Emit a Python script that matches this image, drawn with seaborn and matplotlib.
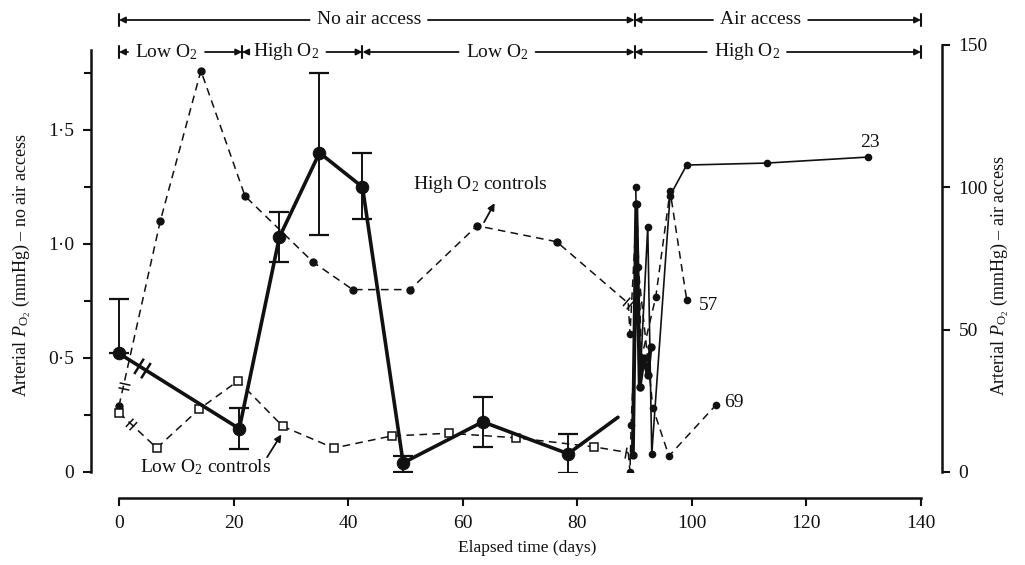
import matplotlib
matplotlib.use("Agg")
import numpy as np
import pandas as pd
import matplotlib.pyplot as plt
import seaborn as sns
from matplotlib.path import Path
from matplotlib.markers import MarkerStyle
from matplotlib.transforms import Affine2D, blended_transform_factory
from matplotlib.lines import Line2D
from matplotlib.ticker import FixedLocator, MultipleLocator, FuncFormatter

# ---------------- data ----------------
# Experimental animals, no air access (mean, with error bars) - left axis
exp_days = [0, 21, 28, 35, 42.5, 49.6, 63.5, 78.4]
exp_po2 = [0.52, 0.19, 1.03, 1.40, 1.25, 0.04, 0.22, 0.08]
exp_err_low = [0.0, 0.09, 0.11, 0.36, 0.14, 0.04, 0.11, 0.085]
exp_err_high = [0.24, 0.09, 0.11, 0.35, 0.15, 0.03, 0.11, 0.085]
exp_tail_days = [78.4, 87.1]
exp_tail_po2 = [0.08, 0.24]

# Controls kept at high / low O2 - left axis
high_ctrl_days = [0, 7.2, 14.3, 22, 33.9, 40.8, 50.8, 62.5, 76.4, 88.9]
high_ctrl_po2 = [0.29, 1.10, 1.76, 1.21, 0.92, 0.80, 0.80, 1.08, 1.01, 0.74]
low_ctrl_days = [0, 6.6, 14, 20.8, 28.6, 37.5, 47.6, 57.6, 69.3, 83, 88.9]
low_ctrl_po2 = [0.26, 0.105, 0.276, 0.40, 0.20, 0.105, 0.158, 0.17, 0.15, 0.11, 0.085]

# Air access period, individual animals - right axis
exp_air_days = [89.7, 90.3, 90.9, 91.6, 92.3, 92.8]
exp_air_po2 = [6, 94, 30, 40, 34, 44]
a23_days = [90.2, 90.9, 92.3, 93.0, 96.2, 99.1, 113.1, 130.7]
a23_po2 = [100, 30, 86, 6.3, 97, 107.7, 108.4, 110.5]
a57_days = [89.2, 90.4, 91.2, 93.7, 96.2, 99.1]
a57_po2 = [48.4, 94, 40, 61.4, 98.6, 60.4]
a69_days = [89.2, 89.4, 90.6, 93.2, 96.0, 104.2]
a69_po2 = [0, 16.5, 72, 22.5, 5.6, 23.5]

# Period bars along the top
row1_periods = [(0, 90, "No air access", 43.6), (90, 140, "Air access", 112)]
row2_periods = [(0, 21.5, "Low O$_2$", 8.3), (21.5, 42.5, "High O$_2$", 29.2),
                (42.5, 90, "Low O$_2$", 66.0), (90, 140, "High O$_2$", 109.6)]

LEFT_MAX, RIGHT_MAX = 1.875, 150.0
SCALE = RIGHT_MAX / LEFT_MAX

# ---------------- style ----------------
sns.set_theme(style="white")
plt.rcParams["font.family"] = ["Liberation Serif", "DejaVu Serif"]
plt.rcParams["mathtext.fontset"] = "custom"
plt.rcParams["mathtext.rm"] = "Liberation Serif"
plt.rcParams["mathtext.it"] = "Liberation Serif:italic"
plt.rcParams["axes.unicode_minus"] = False

K = "#111111"
FS = 14

fig = plt.figure(figsize=(10.25, 5.65), dpi=100)
ax = fig.add_axes([91 / 1025, 93 / 565, 851 / 1025, 427.5 / 565])
ax2 = ax.twinx()
ax.set_facecolor("none")
px_per_day = (921 - 119) / 140
ax.set_xlim(-28 / px_per_day, 140 + 21 / px_per_day)
ax.set_ylim(0, LEFT_MAX)
ax2.set_ylim(0, RIGHT_MAX)

dash = (5, 3.5)

# experimental mean, thick line
sns.lineplot(x=exp_days, y=exp_po2, ax=ax, sort=False, estimator=None, color=K,
             lw=2.6, marker="o", markersize=9, markeredgecolor=K, zorder=5)
sns.lineplot(x=exp_tail_days, y=exp_tail_po2, ax=ax, sort=False, estimator=None,
             color=K, lw=2.6, zorder=5)
ax.errorbar(exp_days, exp_po2, yerr=[exp_err_low, exp_err_high], fmt="none",
            ecolor=K, elinewidth=1.4, capsize=7, capthick=1.6, zorder=4)

# high O2 controls
sns.lineplot(x=high_ctrl_days, y=high_ctrl_po2, ax=ax, sort=False, estimator=None,
             color=K, lw=1.1, linestyle="--", dashes=False, zorder=3)
ax.lines[-1].set_dashes(dash)
ax.plot(high_ctrl_days[:-1], high_ctrl_po2[:-1], ls="none", marker="o", ms=5,
        color=K, zorder=4)

# low O2 controls
sns.lineplot(x=low_ctrl_days, y=low_ctrl_po2, ax=ax, sort=False, estimator=None,
             color=K, lw=1.1, linestyle="--", dashes=False, zorder=3)
ax.lines[-1].set_dashes(dash)
ax.plot(low_ctrl_days[:-1], low_ctrl_po2[:-1], ls="none", marker="s", ms=5.5,
        mfc="white", mec=K, mew=1.1, zorder=4)

# air access traces (right axis)
def trace(xs, ys, lw, dashed, ms, first_marker=True):
    sns.lineplot(x=xs, y=ys, ax=ax2, sort=False, estimator=None, color=K, lw=lw,
                 zorder=3)
    ln = ax2.lines[-1]
    if dashed:
        ln.set_dashes(dash)
    start = 0 if first_marker else 1
    ax2.plot(xs[start:], ys[start:], ls="none", marker="o", ms=ms, color=K, zorder=4)

trace([high_ctrl_days[-1]] + a57_days, [high_ctrl_po2[-1] * SCALE] + a57_po2,
      1.1, True, 4.5, first_marker=False)
trace([low_ctrl_days[-1]] + a69_days, [low_ctrl_po2[-1] * SCALE] + a69_po2,
      1.1, True, 4.5, first_marker=False)
trace(a23_days, a23_po2, 1.2, False, 4.5)
trace(exp_air_days, exp_air_po2, 2.8, False, 5)

# ---------------- axes & spines ----------------
for s in ["top", "right"]:
    ax.spines[s].set_visible(False)
for s in ["top", "left", "bottom"]:
    ax2.spines[s].set_visible(False)
for sp in [ax.spines["left"], ax.spines["bottom"], ax2.spines["right"]]:
    sp.set_color(K)
    sp.set_linewidth(1.8)
ax.spines["bottom"].set_position(("outward", 19))
ax.spines["bottom"].set_bounds(0, 140)
ax.spines["left"].set_bounds(0, 1.85)
ax2.spines["right"].set_bounds(0, RIGHT_MAX)

ax.xaxis.set_major_locator(FixedLocator(np.arange(0, 141, 20)))
ax.xaxis.set_minor_locator(FixedLocator(np.arange(10, 140, 20)))
ax.yaxis.set_major_locator(FixedLocator([0, 0.5, 1.0, 1.5]))
ax.yaxis.set_minor_locator(FixedLocator([0.25, 0.75, 1.25, 1.75]))
ax.yaxis.set_major_formatter(FuncFormatter(
    lambda v, p: "0" if v == 0 else f"{v:.1f}".replace(".", "\u00b7")))
ax2.yaxis.set_major_locator(FixedLocator([0, 50, 100, 150]))
ax2.yaxis.set_minor_locator(FixedLocator([]))

ax.tick_params(axis="both", which="both", direction="out", color=K, width=1.5,
               labelsize=FS, labelcolor=K)
ax.tick_params(axis="both", which="major", length=6, pad=6)
ax.tick_params(axis="both", which="minor", length=5)
ax.tick_params(axis="x", bottom=True, top=False)
ax.tick_params(axis="y", left=True, right=False)
ax2.tick_params(axis="y", which="major", direction="out", color=K, width=1.5,
                length=6, pad=6, labelsize=FS, labelcolor=K)

ax.set_xlabel("Elapsed time (days)", fontsize=12.5, color=K)
ax.xaxis.set_label_coords(0.512, -0.178)
ax.xaxis.label.set_va("center")
ax.set_ylabel(r"Arterial $P_{\mathrm{O}_2}$ (mmHg) \u2013 no air access".replace("\\u2013", "\u2013"),
              fontsize=13, color=K)
ax.yaxis.set_label_coords(-0.081, 0.484)
ax.yaxis.label.set_va("center")
ax2.set_ylabel(r"Arterial $P_{\mathrm{O}_2}$ (mmHg) \u2013 air access".replace("\\u2013", "\u2013"),
               fontsize=13, color=K)
ax2.yaxis.set_label_coords(1.068, 0.46)
ax2.yaxis.label.set_va("center")
ax2.yaxis.label.set_rotation(90)

# ---------------- break marks on lines ----------------
bar_path = Path([(-0.45, -1), (-0.45, 1), (0.45, -1), (0.45, 1)],
                [Path.MOVETO, Path.LINETO, Path.MOVETO, Path.LINETO])

def angle_of(axes, p0, p1):
    d0 = axes.transData.transform(p0)
    d1 = axes.transData.transform(p1)
    return np.degrees(np.arctan2(d1[1] - d0[1], d1[0] - d0[0]))

def break_mark(axes, pos, p0, p1, size, lw):
    ang = angle_of(axes, p0, p1)
    m = MarkerStyle(bar_path, transform=Affine2D().rotate_deg(ang))
    axes.plot([pos[0]], [pos[1]], ls="none", marker=m, ms=size, mec=K, mew=lw,
              zorder=6)

def point_on(xs, ys, i, t):
    return (xs[i] + t * (xs[i + 1] - xs[i]), ys[i] + t * (ys[i + 1] - ys[i]))

fig.canvas.draw()
break_mark(ax, point_on(exp_days, exp_po2, 0, 0.19),
           (exp_days[0], exp_po2[0]), (exp_days[1], exp_po2[1]), 13, 1.8)
break_mark(ax, point_on(high_ctrl_days, high_ctrl_po2, 0, 0.11),
           (high_ctrl_days[0], high_ctrl_po2[0]), (high_ctrl_days[1], high_ctrl_po2[1]), 8, 1.1)
break_mark(ax, point_on(low_ctrl_days, low_ctrl_po2, 0, 0.33),
           (low_ctrl_days[0], low_ctrl_po2[0]), (low_ctrl_days[1], low_ctrl_po2[1]), 8, 1.1)
break_mark(ax, (high_ctrl_days[-1], high_ctrl_po2[-1]),
           (high_ctrl_days[-2], high_ctrl_po2[-2]), (high_ctrl_days[-1], high_ctrl_po2[-1]), 8, 1.1)
break_mark(ax, (low_ctrl_days[-1], low_ctrl_po2[-1]),
           (low_ctrl_days[-2], low_ctrl_po2[-2]), (low_ctrl_days[-1], low_ctrl_po2[-1]), 8, 1.1)

# ---------------- annotations ----------------
ax.text(63.0, 1.26, "High O$_2$ controls", ha="center", va="center", fontsize=FS, color=K)
ax.annotate("", xy=(65.8, 1.19), xytext=(63.5, 1.085),
            arrowprops=dict(arrowstyle="-|>", color=K, lw=1.3, mutation_scale=10))
ax.text(15.2, 0.02, "Low O$_2$ controls", ha="center", va="center", fontsize=FS, color=K)
ax.annotate("", xy=(28.6, 0.175), xytext=(25.6, 0.055),
            arrowprops=dict(arrowstyle="-|>", color=K, lw=1.3, mutation_scale=10))

ax2.text(131.0, 115.5, "23", ha="center", va="center", fontsize=FS, color=K)
ax2.text(103.0, 58.5, "57", ha="center", va="center", fontsize=FS, color=K)
ax2.text(107.3, 24.5, "69", ha="center", va="center", fontsize=FS, color=K)

# period bars
trans = blended_transform_factory(ax.transData, fig.transFigure)
renderer = fig.canvas.get_renderer()
inv = ax.transData.inverted()

def period_row(periods, yfig):
    gap = 7
    for x0, x1, label, xc in periods:
        t = ax.text(xc, yfig, label, transform=trans, ha="center", va="center",
                    fontsize=FS, color=K, clip_on=False)
        bb = t.get_window_extent(renderer)
        lx = inv.transform((bb.x0 - gap, 0))[0]
        rx = inv.transform((bb.x1 + gap, 0))[0]
        for tip, tail in [(x0, lx), (x1, rx)]:
            ax.annotate("", xy=(tip, yfig), xytext=(tail, yfig), xycoords=trans,
                        textcoords=trans,
                        arrowprops=dict(arrowstyle="-|>", color=K, lw=1.3,
                                        mutation_scale=9, shrinkA=0, shrinkB=0),
                        annotation_clip=False)
    ends = sorted({p[0] for p in periods} | {p[1] for p in periods})
    h = 6 / 565
    for xe in ends:
        fig.add_artist(Line2D([xe, xe], [yfig - h, yfig + h], transform=trans,
                              color=K, lw=1.5))

period_row(row1_periods, 1 - 20 / 565)
period_row(row2_periods, 1 - 52 / 565)

fig.savefig("out.png", dpi=100)
